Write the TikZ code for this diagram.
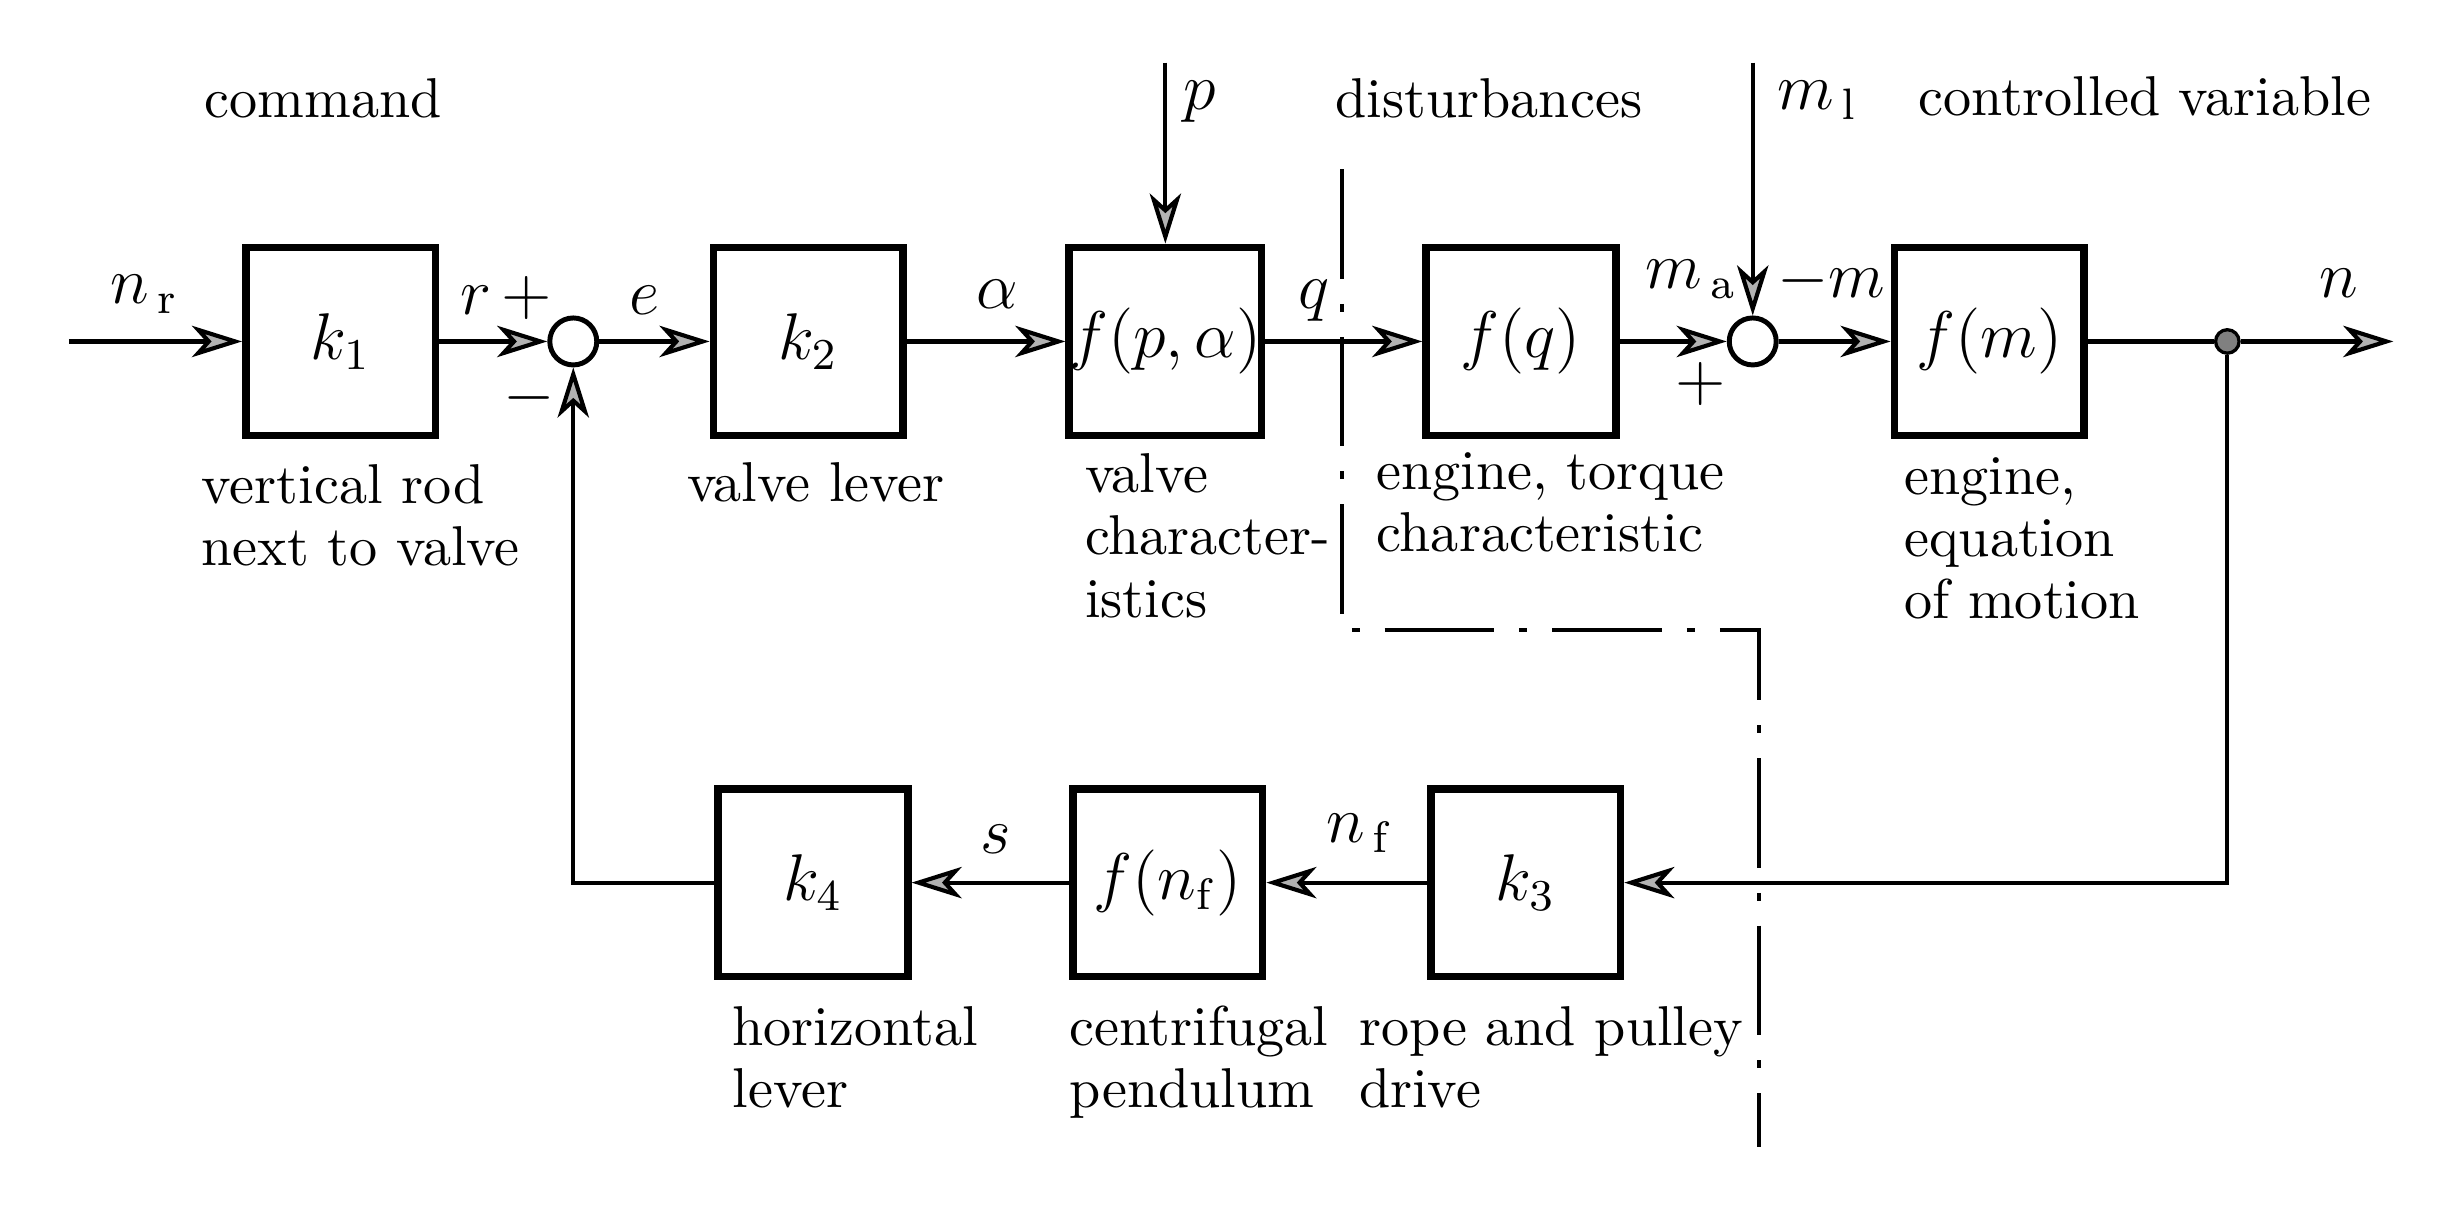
\documentclass[tikz,border=0pt]{standalone}
\usepackage{tikz}
\usetikzlibrary{arrows.meta}

\tikzset{
  blk/.style={draw, line width=1.4pt, minimum width=1.21cm, minimum height=1.2cm, inner sep=0pt, font=\fontsize{11.5}{13}\selectfont},
  sumpt/.style={draw, circle, line width=0.9pt, minimum size=0.3cm, inner sep=0pt},
  brpt/.style={draw, circle, fill=gray, minimum size=0.15cm, inner sep=0pt, line width=0.6pt},
  sig/.style={anchor=base west, inner sep=0pt, font=\fontsize{11.5}{13}\selectfont},
  desc/.style={anchor=base west, align=left, inner sep=0pt, font=\fontsize{10.2}{11.3}\selectfont},
  flow/.style={line width=0.75pt, -{Stealth[length=3.2mm,width=2mm,inset=0.9mm,fill=gray!60]}},
  border/.style={line width=0.7pt, dash pattern=on 0.7cm off 0.16cm on 0.05cm off 0.16cm}
}

\begin{document}
\begin{tikzpicture}[x=1cm,y=1cm]
\path[use as bounding box] (0,0) rectangle (15.68,7.85);
\node[blk] (k1) at (2.175,5.67) {$k_1$};
\node[sumpt] (s1) at (3.66,5.67) {};
\node[blk] (k2) at (5.16,5.67) {$k_2$};
\node[blk] (fpa) at (7.44,5.67) {$f(p,\alpha)$};
\node[blk] (fq) at (9.71,5.67) {$f(q)$};
\node[sumpt] (s2) at (11.19,5.67) {};
\node[blk] (fm) at (12.70,5.67) {$f(m)$};
\node[brpt] (br) at (14.22,5.67) {};
\node[blk] (k3) at (9.74,2.215) {$k_3$};
\node[blk] (fnf) at (7.455,2.215) {$f(n_{\mathrm{f}})$};
\node[blk] (k4) at (5.19,2.215) {$k_4$};
\coordinate (in) at (0.44,5.67);
\coordinate (out) at (15.28,5.67);
\coordinate (ptop) at (7.44,7.45);
\coordinate (mltop) at (11.19,7.45);
\draw[flow] (in) -- (k1);
\draw[flow] (k1) -- (s1);
\draw[flow] (s1) -- (k2);
\draw[flow] (k2) -- (fpa);
\draw[flow] (fpa) -- (fq);
\draw[flow] (fq) -- (s2);
\draw[flow] (s2) -- (fm);
\draw[line width=0.75pt] (fm) -- (br);
\draw[flow] (br) -- (out);
\draw[flow] (br) |- (k3);
\draw[flow] (k3) -- (fnf);
\draw[flow] (fnf) -- (k4);
\draw[flow] (k4) -| (s1);
\draw[flow] (ptop) -- (fpa);
\draw[flow] (mltop) -- (s2);
\draw[border] (8.57,6.77) -- (8.57,3.83) -- (11.23,3.83) -- (11.23,0.53);
\node[sig] (lnr) at (0.70,5.91) {$n_{\,\mathrm{r}}$};
\node[sig] (lr) at (2.93,5.84) {$r\,+$};
\node[sig] (le) at (4.01,5.84) {$e$};
\node[sig,anchor=center] (lminus) at (3.38,5.31) {$-$};
\node[sig] (lalpha) at (6.23,5.88) {$\alpha$};
\node[sig] (lq) at (8.28,5.88) {$q$};
\node[sig] (lma) at (10.50,6.01) {$m_{\,\mathrm{a}}$};
\node[sig] (lm) at (11.34,5.95) {$-m$};
\node[sig,anchor=center] (lplus) at (10.855,5.40) {$+$};
\node[sig] (ln) at (14.80,5.95) {$n$};
\node[sig] (lp) at (7.55,7.15) {$p$};
\node[sig] (lml) at (11.34,7.15) {$m_{\,\mathrm{l}}$};
\node[sig] (lnf) at (8.46,2.47) {$n_{\,\mathrm{f}}$};
\node[sig] (ls) at (6.25,2.40) {$s$};
\node[desc] (tcmd) at (1.30,7.10) {command};
\node[desc] (tdist) at (8.52,7.10) {disturbances};
\node[desc] (tctrl) at (12.24,7.11) {controlled variable};
\node[desc] (dk1) at (1.28,4.24) {vertical rod\\next to valve};
\node[desc] (dk2) at (4.38,4.65) {valve lever};
\node[desc] (dfpa) at (6.92,3.91) {valve\\character-\\istics};
\node[desc] (dfq) at (8.78,4.33) {engine, torque\\characteristic};
\node[desc] (dfm) at (12.15,3.90) {engine,\\equation\\of motion};
\node[desc] (dk4) at (4.67,0.78) {horizontal\\lever};
\node[desc] (dfnf) at (6.82,0.78) {centrifugal\\pendulum};
\node[desc] (dk3) at (8.67,0.78) {rope and pulley\\drive};
\end{tikzpicture}
\end{document}
